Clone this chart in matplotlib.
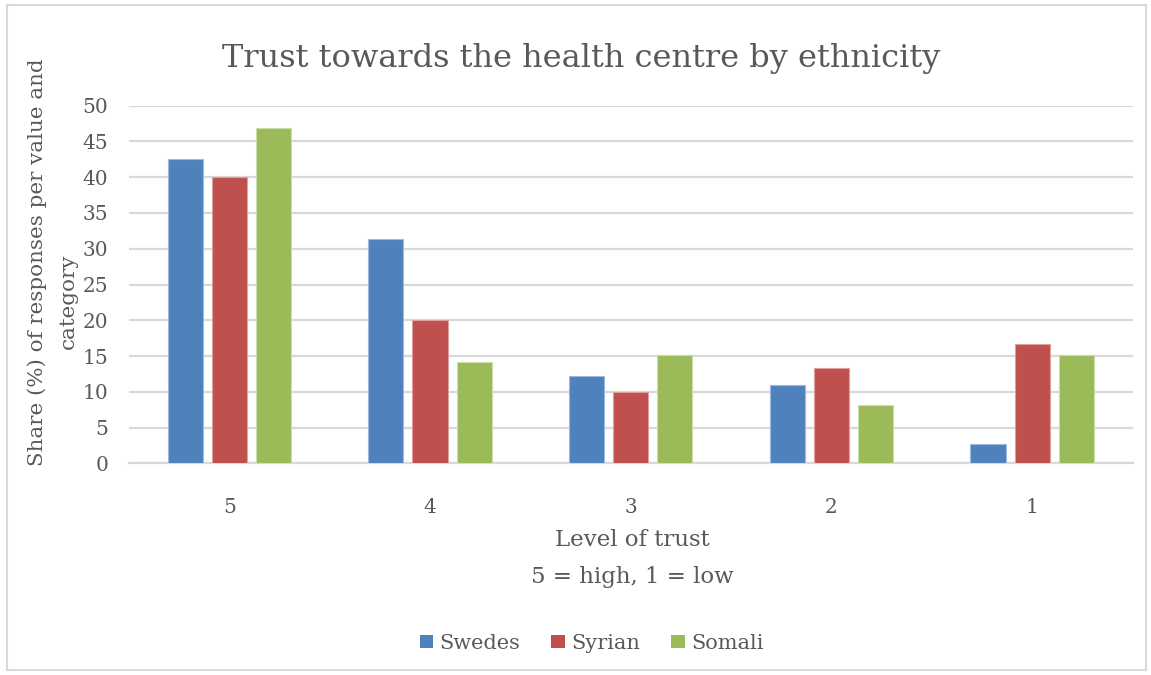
import matplotlib
matplotlib.use('Agg')
import matplotlib.pyplot as plt
import matplotlib.patches as mpatches
import numpy as np

levels = ['5', '4', '3', '2', '1']
swedes = [42.5, 31.4, 12.2, 10.9, 2.7]
syrian = [40.0, 20.0, 10.0, 13.3, 16.7]
somali = [46.9, 14.2, 15.2, 8.1, 15.2]
groups = ['Swedes', 'Syrian', 'Somali']
colours = ['#4F81BD', '#C0504D', '#9BBB59']
edges = ['#9DB9DE', '#E0A09E', '#CBDDA8']

txt = '#595959'
grid = '#D9D9D9'
plt.rcParams['font.family'] = ['DejaVu Serif']

fig = plt.figure(figsize=(11.51, 6.75), dpi=100)
ax = fig.add_axes([0.112, 0.3136, 0.872, 0.5298])

# chart frame
fig.patches.append(mpatches.Rectangle((0.006, 0.007), 0.99, 0.986, transform=fig.transFigure,
                                      fill=False, edgecolor=grid, linewidth=1.5))

x = np.arange(len(levels))
w = 0.175
step = 0.22
for k, vals in enumerate([swedes, syrian, somali]):
    ax.bar(x + (k - 1) * step, vals, w, color=colours[k], edgecolor=edges[k],
           linewidth=0.8, label=groups[k], zorder=3)

ax.set_xlim(-0.5, len(levels) - 0.5)
ax.set_ylim(0, 50)
ax.set_yticks(range(0, 51, 5))
ax.set_xticks(x)
ax.set_xticklabels(levels)
ax.yaxis.grid(True, color=grid, linewidth=1.6, zorder=0)
ax.set_axisbelow(True)
for s in ax.spines.values():
    s.set_visible(False)
ax.spines['bottom'].set_visible(True)
ax.spines['bottom'].set_color(grid)
ax.spines['bottom'].set_linewidth(1.6)
ax.tick_params(axis='both', length=0, colors=txt, labelsize=14.5)
ax.tick_params(axis='x', pad=25)
ax.tick_params(axis='y', pad=15)

fig.text(0.505, 0.913, 'Trust towards the health centre by ethnicity', ha='center', va='center',
         fontsize=23, color=txt)
fig.text(0.549, 0.2, 'Level of trust', ha='center', va='center', fontsize=16.5, color=txt)
fig.text(0.549, 0.145, '5 = high, 1 = low', ha='center', va='center', fontsize=16.5, color=txt)

# wrapped y-axis title, two rotated lines
fig.text(0.032, 0.612, 'Share (%) of responses per value and', ha='center', va='center',
         rotation=90, fontsize=15.4, color=txt)
fig.text(0.059, 0.553, 'category', ha='center', va='center',
         rotation=90, fontsize=15.4, color=txt)

leg = fig.legend(loc='center', bbox_to_anchor=(0.514, 0.047), ncol=3, frameon=False,
                 fontsize=15, handlelength=0.65, handleheight=0.65, handletextpad=0.3,
                 columnspacing=1.5)
for t in leg.get_texts():
    t.set_color(txt)
for h in leg.legend_handles:
    h.set_edgecolor('none')

fig.savefig('out.png', dpi=100, facecolor='white')
